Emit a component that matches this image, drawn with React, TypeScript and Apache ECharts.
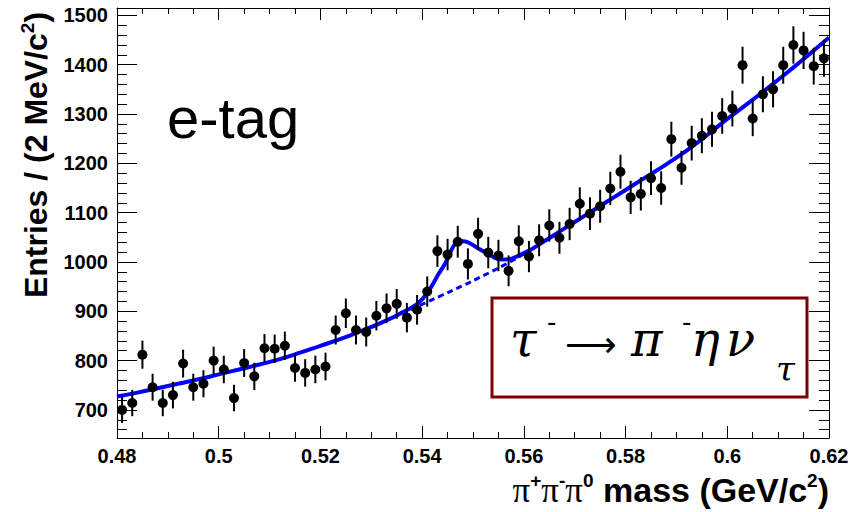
import React, { useEffect, useRef } from "react";
import * as echarts from "echarts";

// bin centres (2 MeV bins from 0.48 to 0.62 GeV/c^2)
const binCenters = [
  0.481, 0.483, 0.485, 0.487, 0.489, 0.491, 0.493, 0.495, 0.497, 0.499,
  0.501, 0.503, 0.505, 0.507, 0.509, 0.511, 0.513, 0.515, 0.517, 0.519,
  0.521, 0.523, 0.525, 0.527, 0.529, 0.531, 0.533, 0.535, 0.537, 0.539,
  0.541, 0.543, 0.545, 0.547, 0.549, 0.551, 0.553, 0.555, 0.557, 0.559,
  0.561, 0.563, 0.565, 0.567, 0.569, 0.571, 0.573, 0.575, 0.577, 0.579,
  0.581, 0.583, 0.585, 0.587, 0.589, 0.591, 0.593, 0.595, 0.597, 0.599,
  0.601, 0.603, 0.605, 0.607, 0.609, 0.611, 0.613, 0.615, 0.617, 0.619,
];

// entries per bin
const counts = [
  700, 714, 812, 746, 714, 730, 794, 746, 753, 800,
  782, 724, 795, 768, 825, 824, 830, 785, 775, 782,
  788, 862, 896, 862, 858, 891, 906, 915, 887, 903,
  940, 1022, 1015, 1041, 996, 1057, 1019, 1013, 982, 1042,
  1011, 1044, 1074, 1049, 1077, 1118, 1098, 1113, 1149, 1183,
  1131, 1138, 1170, 1150, 1249, 1191, 1241, 1256, 1269, 1296,
  1311, 1399, 1291, 1340, 1350, 1399, 1440, 1429, 1397, 1413,
];

// total fit curve, every 4 MeV
const fitX = [
  0.48, 0.484, 0.488, 0.492, 0.496, 0.5, 0.504, 0.508, 0.512, 0.516,
  0.52, 0.524, 0.528, 0.532, 0.536, 0.54, 0.544, 0.548, 0.552, 0.556,
  0.56, 0.564, 0.568, 0.572, 0.576, 0.58, 0.584, 0.588, 0.592, 0.596,
  0.6, 0.604, 0.608, 0.612, 0.616, 0.62,
];
const fitY = [
  727, 735, 744, 753, 762, 772, 782, 792, 803, 816,
  830, 844, 860, 877, 897, 924, 988, 1042, 1022, 1005,
  1018, 1042, 1068, 1094, 1120, 1146, 1172, 1198, 1226, 1257,
  1290, 1321, 1353, 1386, 1420, 1455,
];

// background-only curve (dashed, visible under the peak)
const bkgX = [0.536, 0.54, 0.544, 0.548, 0.552, 0.556, 0.56];
const bkgY = [895, 914, 933, 952, 972, 993, 1016];

const BLUE = "#0000ff";
const SANS = "Liberation Sans, Arial, sans-serif";
const SERIF = "Liberation Serif, Times New Roman, serif";
const GREEK = "DejaVu Serif, serif";

export default function App() {
  const ref = useRef<HTMLDivElement>(null);

  useEffect(() => {
    const chart = echarts.init(ref.current!, null, { renderer: "svg" });
    const points = binCenters.map((x, i) => [x, counts[i]]);
    const errs = binCenters.map((x, i) => {
      const e = Math.sqrt(counts[i]);
      return [x, counts[i] - e, counts[i] + e];
    });
    const fit = fitX.map((x, i) => [x, fitY[i]]);
    const bkg = bkgX.map((x, i) => [x, bkgY[i]]);

    const xCommon = {
      type: "value",
      min: 0.48,
      max: 0.62,
      interval: 0.02,
      axisLine: { show: true, onZero: false, lineStyle: { color: "#000", width: 1 } },
      axisTick: { show: true, inside: true, length: 12, lineStyle: { color: "#000", width: 1 } },
      minorTick: { show: true, splitNumber: 4, length: 6, lineStyle: { color: "#000", width: 1 } },
      splitLine: { show: false },
    };
    const yCommon = {
      type: "value",
      min: 643,
      max: 1515,
      splitNumber: 9,
      minInterval: 100,
      maxInterval: 100,
      axisLine: { show: true, onZero: false, lineStyle: { color: "#000", width: 1 } },
      axisTick: { show: true, inside: true, length: 20, lineStyle: { color: "#000", width: 1 } },
      minorTick: { show: true, splitNumber: 5, length: 10, lineStyle: { color: "#000", width: 1 } },
      splitLine: { show: false },
    };

    const glyph = (
      text: string,
      x: number,
      y: number,
      size: number,
      family: string,
      italic: boolean
    ) => ({
      type: "text",
      x,
      y,
      z: 20,
      style: {
        text,
        fontFamily: family,
        fontStyle: italic ? "italic" : "normal",
        fontSize: size,
        fill: "#000",
        align: "left",
        verticalAlign: "middle",
      },
    });

    chart.setOption({
      animation: false,
      backgroundColor: "#fff",
      grid: { left: 117, right: 36, top: 8, bottom: 74, containLabel: false },
      xAxis: [
        {
          ...xCommon,
          position: "bottom",
          axisLabel: {
            color: "#000",
            fontFamily: SANS,
            fontWeight: "bold",
            fontSize: 20,
            margin: 8,
          },
        },
        { ...xCommon, position: "top", axisLabel: { show: false } },
      ],
      yAxis: [
        {
          ...yCommon,
          position: "left",
          axisLabel: {
            color: "#000",
            fontFamily: SANS,
            fontWeight: "bold",
            fontSize: 20,
            margin: 9,
            showMinLabel: false,
            showMaxLabel: false,
            formatter: (v: number) => String(Math.round(v)),
          },
        },
        { ...yCommon, position: "right", axisLabel: { show: false } },
      ],
      series: [
        {
          type: "line",
          data: fit,
          smooth: 0.5,
          symbol: "none",
          lineStyle: { color: BLUE, width: 4 },
          z: 3,
        },
        {
          type: "line",
          data: bkg,
          smooth: 0.5,
          symbol: "none",
          lineStyle: { color: BLUE, width: 3, type: [6, 4] },
          z: 3,
        },
        {
          type: "custom",
          data: errs,
          encode: { x: 0, y: [1, 2] },
          renderItem: (params: any, api: any) => {
            const x = api.value(0);
            const p1 = api.coord([x, api.value(1)]);
            const p2 = api.coord([x, api.value(2)]);
            return {
              type: "line",
              shape: { x1: p1[0], y1: p1[1], x2: p2[0], y2: p2[1] },
              style: { stroke: "#000", lineWidth: 2 },
            };
          },
          z: 4,
        },
        {
          type: "scatter",
          data: points,
          symbol: "circle",
          symbolSize: 10,
          itemStyle: { color: "#000", opacity: 1 },
          z: 5,
        },
      ],
      graphic: [
        {
          type: "text",
          x: 36,
          y: 155,
          rotation: Math.PI / 2,
          style: {
            text: "{b|Entries / (2 MeV/c}{s|2}{b|)}",
            align: "center",
            verticalAlign: "middle",
            rich: {
              b: { fontFamily: SANS, fontWeight: "bold", fontSize: 32, color: "#000", lineHeight: 36 },
              s: { fontFamily: SANS, fontWeight: "bold", fontSize: 19, color: "#000", verticalAlign: "top", lineHeight: 36 },
            },
          },
        },
        {
          type: "text",
          x: 167,
          y: 117,
          style: {
            text: "e-tag",
            fontFamily: SANS,
            fontSize: 58,
            fill: "#000",
            align: "left",
            verticalAlign: "middle",
          },
        },
        {
          type: "text",
          x: 829,
          y: 490,
          style: {
            text: "{p|π}{s|+}{p|π}{s|-}{p|π}{s|0}{b| mass (GeV/c}{s|2}{b|)}",
            align: "right",
            verticalAlign: "middle",
            rich: {
              p: { fontFamily: SERIF, fontSize: 35, color: "#000", lineHeight: 38 },
              b: { fontFamily: SANS, fontWeight: "bold", fontSize: 34, color: "#000", lineHeight: 38 },
              s: { fontFamily: SANS, fontWeight: "bold", fontSize: 19, color: "#000", verticalAlign: "top", lineHeight: 38 },
            },
          },
        },
        {
          type: "rect",
          z: 10,
          shape: { x: 492, y: 298, width: 315, height: 99 },
          style: { fill: "#fff", stroke: "#800000", lineWidth: 3 },
        },
        glyph("τ", 510, 339, 48, GREEK, true),
        glyph("-", 547, 322, 26, "DejaVu Sans", false),
        glyph("⟶", 565, 344, 36, "DejaVu Sans", false),
        glyph("π", 631, 339, 48, GREEK, true),
        glyph("-", 682, 322, 26, "DejaVu Sans", false),
        glyph("η", 691, 339, 48, GREEK, true),
        glyph("ν", 726, 339, 48, GREEK, true),
        glyph("τ", 776, 369, 34, GREEK, true),
      ],
    });
    return () => chart.dispose();
  }, []);

  return (
    <div
      ref={ref}
      style={{ position: "fixed", left: 0, top: 0, width: 865, height: 512, background: "#fff" }}
    />
  );
}
